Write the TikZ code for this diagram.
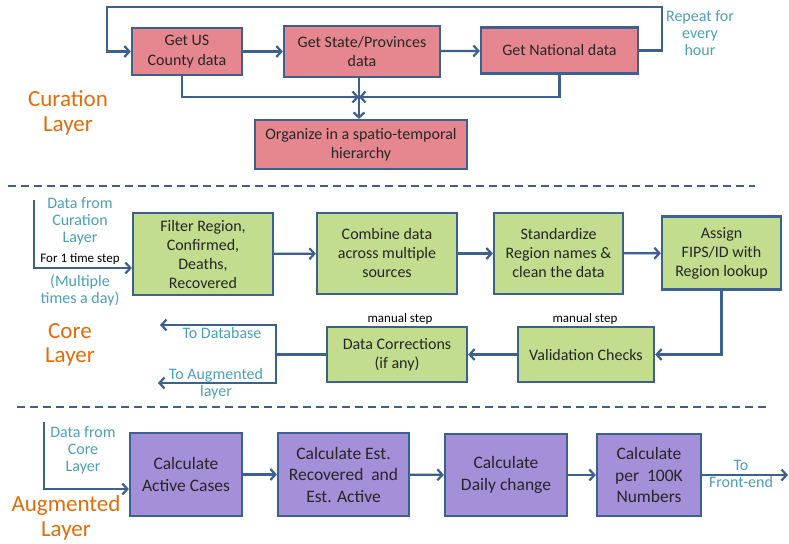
\documentclass[tikz,border=0pt]{standalone}
\usepackage{fontspec}
\setmainfont{Carlito}
\usetikzlibrary{arrows.meta}
\definecolor{bord}{RGB}{60,96,144}
\definecolor{pinkf}{RGB}{230,135,143}
\definecolor{greenf}{RGB}{194,221,141}
\definecolor{purplef}{RGB}{164,143,217}
\definecolor{teal}{RGB}{75,160,185}
\definecolor{orng}{RGB}{228,108,10}
\definecolor{txt}{RGB}{38,38,38}
\tikzset{
  box/.style={draw=bord, line width=2.3pt, rectangle, align=center, text=txt, inner sep=2pt},
  cbox/.style={box, fill=pinkf, font=\fontsize{16}{19.5}\selectfont},
  gbox/.style={box, fill=greenf, font=\fontsize{16}{19}\selectfont},
  pbox/.style={box, fill=purplef, font=\fontsize{17.5}{21.5}\selectfont},
  conn/.style={draw=bord, line width=2.2pt},
  arr/.style={conn, -{Straight Barb[length=5pt,width=11pt,line width=2.2pt]}},
  tlabel/.style={text=teal, align=center, font=\fontsize{16}{17}\selectfont},
  layerlbl/.style={text=orng, align=center, font=\fontsize{23}{24.5}\selectfont},
  small/.style={text=black, font=\fontsize{13}{14}\selectfont},
  sep/.style={draw=bord, line width=2pt, dash pattern=on 8pt off 5pt}
}
\begin{document}
\begin{tikzpicture}[x=1pt,y=-1pt]
\useasboundingbox (0,0) rectangle (789,543);
\fill[white] (0,0) rectangle (789,543);

% ---------- Curation layer ----------
\node[cbox, minimum width=110pt, minimum height=47pt] (county) at (187,51.5) {Get US\\County data};
\node[cbox, minimum width=156pt, minimum height=51pt] (state) at (362,51.5) {Get State/Provinces\\data};
\node[cbox, minimum width=157pt, minimum height=46pt] (national) at (559.5,50.5) {Get National data};
\node[cbox, minimum width=212pt, minimum height=49pt] (organize) at (361,144.5) {Organize in a spatio-temporal\\hierarchy};

\coordinate (ltop) at (107,7);
\coordinate (rtop) at (662,7);
\draw[arr] (national.east) -| (rtop) -- (ltop) |- (county.west);
\draw[arr] (county) -- (state);
\draw[arr] (state) -- (national);
\coordinate (j) at (359,97);
\draw[arr] ([xshift=-5pt]county.south) |- (j);
\draw[arr] (national.south) |- (j);
\draw[arr] (state.south -| j) -- (j |- organize.north);

\node[tlabel] (repeat) at (700,33) {Repeat for\\every\\hour};
\node[layerlbl] (curl) at (68,113) {Curation\\Layer};

\coordinate (s1a) at (8,186);
\coordinate (s1b) at (755,186);
\draw[sep] (s1a) -- (s1b);

% ---------- Core layer ----------
\node[gbox, minimum width=140pt, minimum height=82pt] (filter) at (203,254) {Filter Region,\\Confirmed,\\Deaths,\\Recovered};
\node[gbox, minimum width=140pt, minimum height=81pt] (combine) at (387,253.5) {Combine data\\across multiple\\sources};
\node[gbox, minimum width=129pt, minimum height=81pt] (stand) at (558.5,253.5) {Standardize\\Region names \&\\clean the data};
\node[gbox, minimum width=119pt, minimum height=73pt] (assign) at (721.5,253) {Assign\\FIPS/ID with\\Region lookup};
\node[gbox, minimum width=136pt, minimum height=55pt] (valid) at (586,354.5) {Validation Checks};
\node[gbox, minimum width=140pt, minimum height=55pt] (corr) at (397,354.5) {Data Corrections\\(if any)};

\coordinate (cin) at (34,200);
\draw[arr] (cin) |- ([yshift=-14pt]filter.west);
\draw[arr] (filter) -- (combine);
\draw[arr] (combine) -- (stand);
\draw[arr] (stand) -- (assign);
\draw[arr] (assign.south) |- (valid.east);
\draw[arr] (valid) -- (corr);
\coordinate (split) at (276,354.5);
\coordinate (todb) at (160,325);
\coordinate (toaug) at (158,383);
\draw[conn] (corr.west) -- (split);
\draw[arr] (split) |- (todb);
\draw[arr] (split) |- (toaug);

\node[tlabel] (dfc) at (80,221) {Data from\\Curation\\Layer};
\node[small] (ots) at (80,259) {For 1 time step};
\node[tlabel] (mult) at (80,290) {(Multiple\\times a day)};
\node[small] (man1) at (400,319) {manual step};
\node[small] (man2) at (585,319) {manual step};
\node[tlabel] (tdb) at (222,333) {To Database};
\node[tlabel] (tal) at (216,384) {To Augmented\\layer};
\node[layerlbl] (corel) at (70,345) {Core\\Layer};

\coordinate (s2a) at (17,407);
\coordinate (s2b) at (766,407);
\draw[sep] (s2a) -- (s2b);

% ---------- Augmented layer ----------
\node[pbox, minimum width=112pt, minimum height=83pt] (active) at (186,474.5) {Calculate\\Active Cases};
\node[pbox, minimum width=131pt, minimum height=83pt] (est) at (343.5,474.5) {Calculate Est.\\Recovered\ \ and\\Est. Active};
\node[pbox, minimum width=122pt, minimum height=82pt] (daily) at (506,475) {Calculate\\Daily change};
\node[pbox, minimum width=104pt, minimum height=82pt] (per) at (649,475) {Calculate\\per\ \ 100K\\Numbers};

\coordinate (ain) at (44,422);
\draw[arr] (ain) |- ([yshift=-14.5pt]active.west);
\draw[arr] (active) -- (est);
\draw[arr] (est) -- (daily);
\draw[arr] (daily) -- (per);
\coordinate (fe) at (788,475);
\draw[arr] (per.east) -- (fe);

\node[tlabel] (dfcore) at (83,450) {Data from\\Core\\Layer};
\node[tlabel] (tfe) at (741,474) {To\\Front-end};
\node[layerlbl] (augl) at (66,518) {Augmented\\Layer};
\end{tikzpicture}
\end{document}
